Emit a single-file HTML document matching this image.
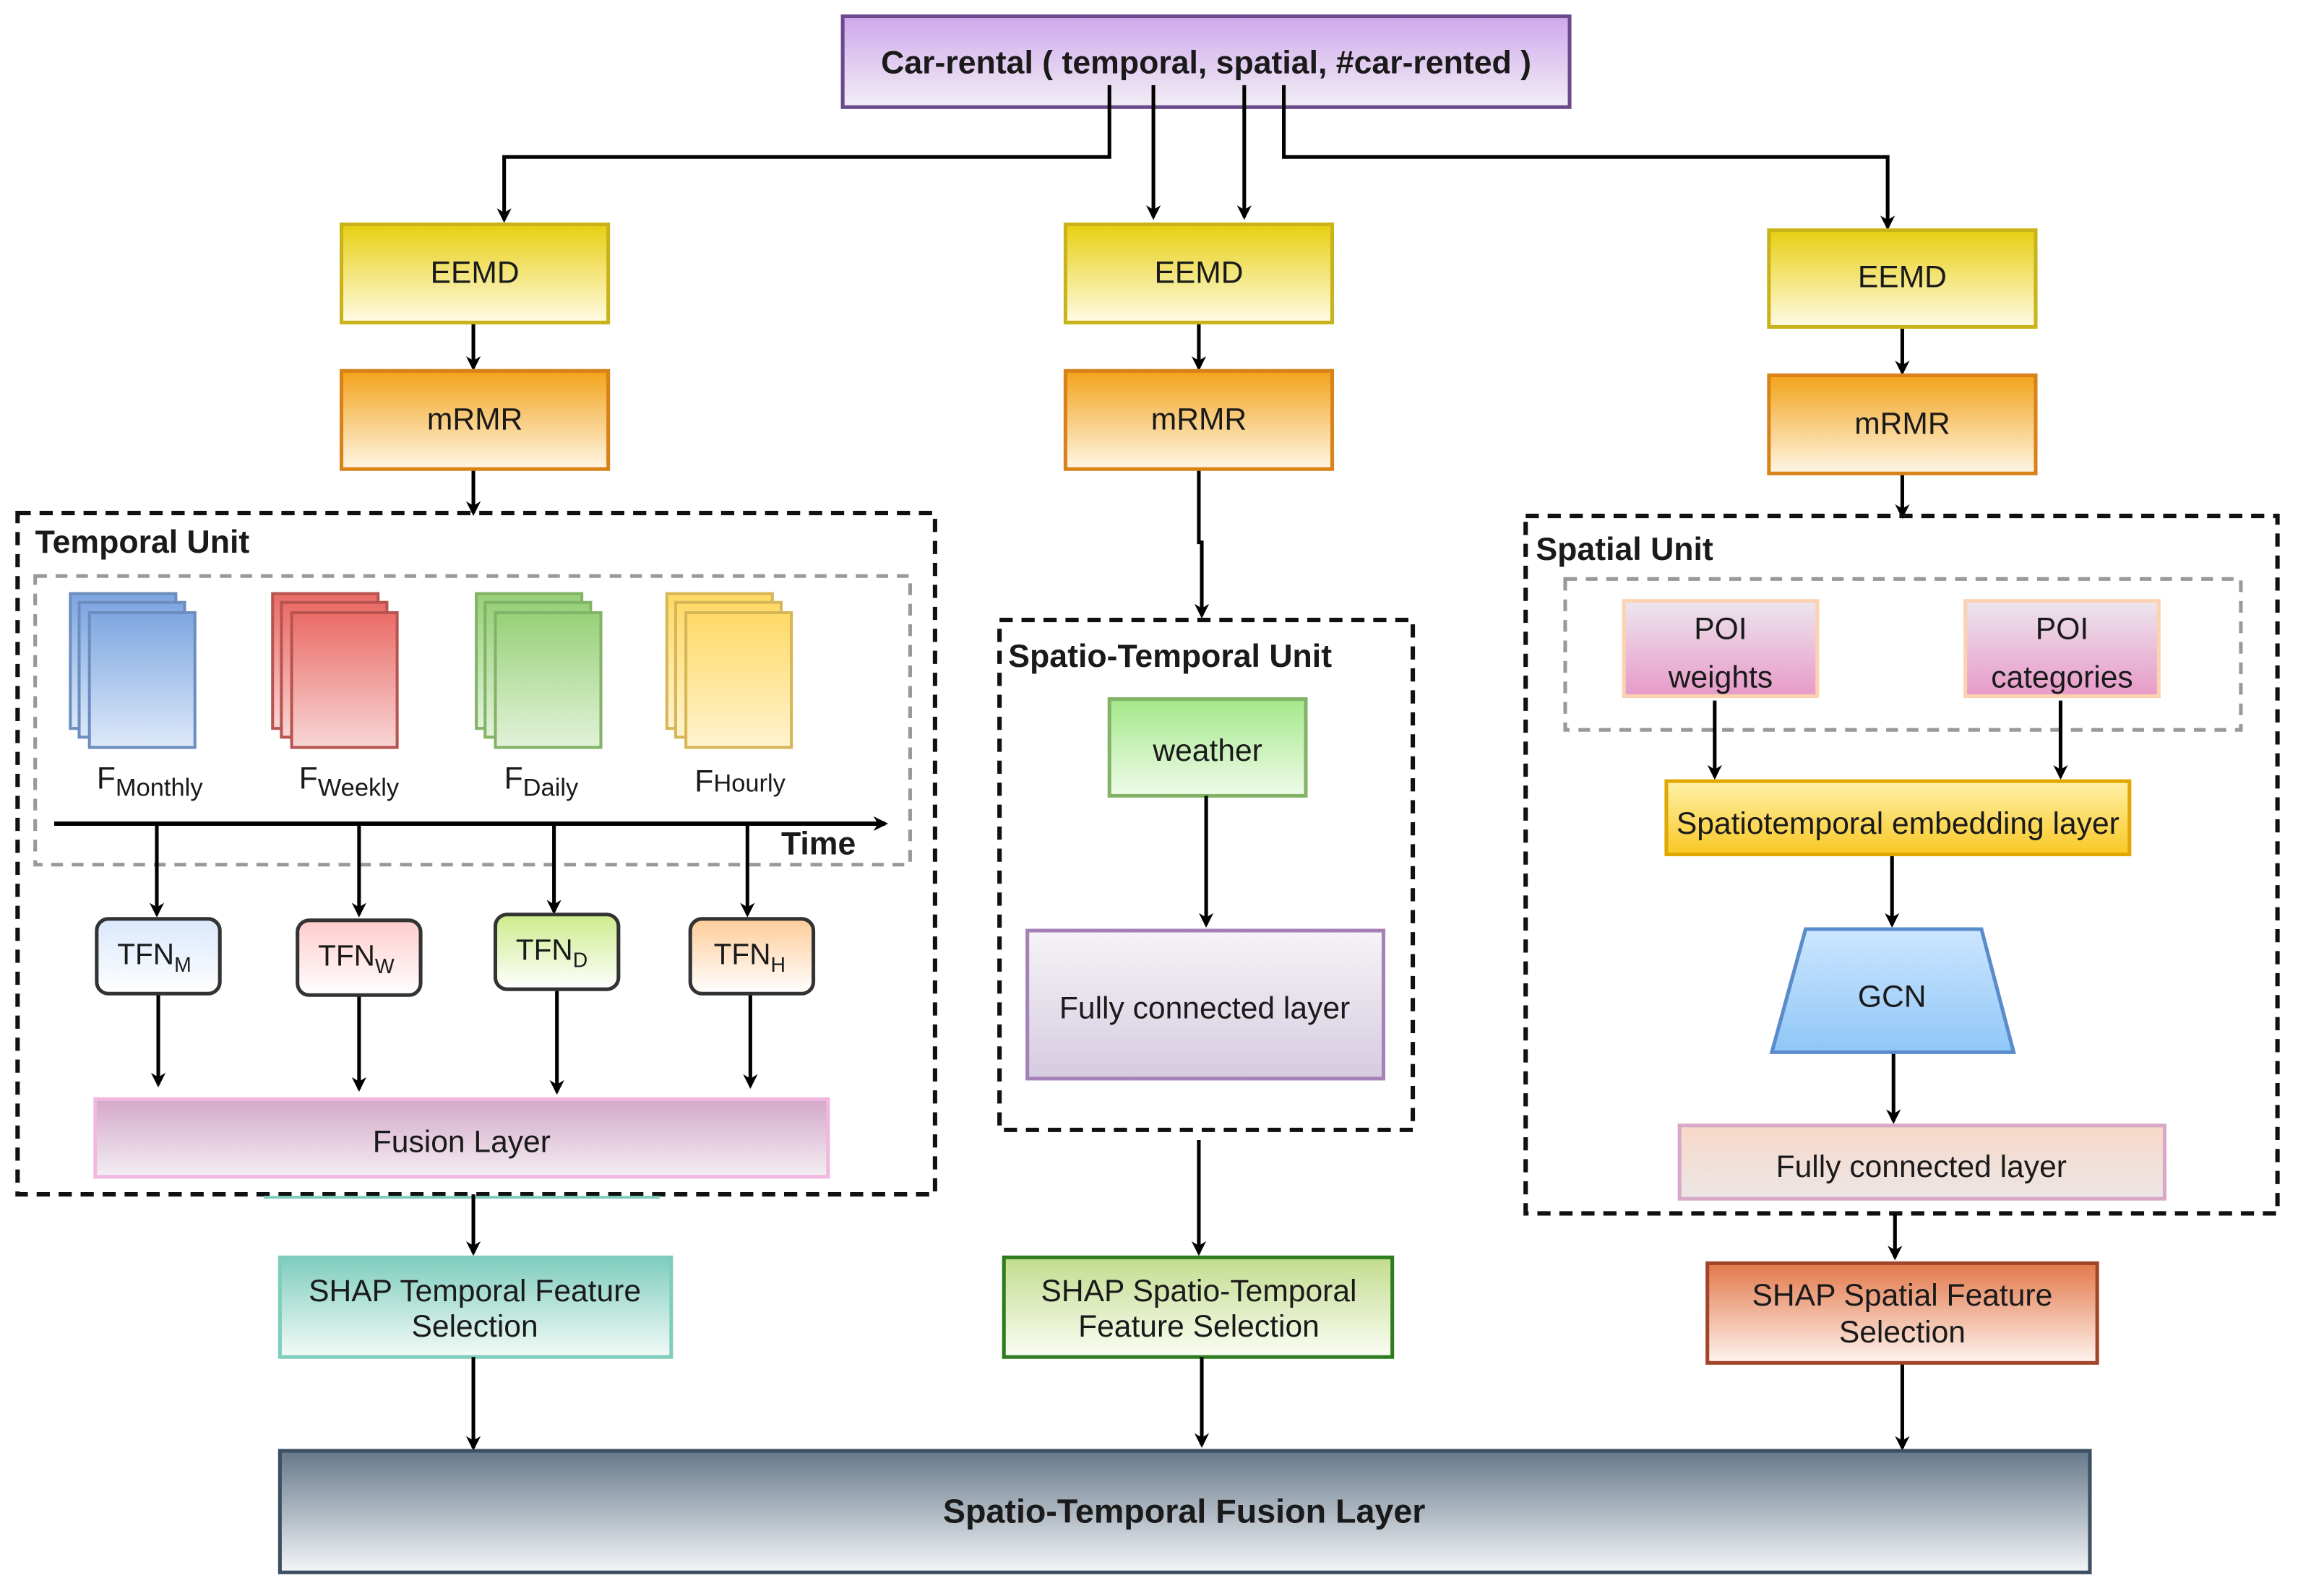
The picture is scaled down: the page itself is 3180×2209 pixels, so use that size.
<!DOCTYPE html>
<html><head><meta charset="utf-8"><style>
html,body{margin:0;padding:0;background:#fff;}
svg{display:block;}
text{font-family:"Liberation Sans",Arial,sans-serif;fill:#1a1a1a;}
</style></head><body>
<svg width="3180" height="2209" viewBox="0 0 1568 1089" xmlns="http://www.w3.org/2000/svg">
<defs>
<marker id="ah" markerWidth="10" markerHeight="10" refX="8" refY="5" orient="auto" markerUnits="userSpaceOnUse">
<path d="M0,0 L10,5 L0,10 L3,5 Z" fill="#000"/></marker>
<linearGradient id="gPurple" x1="0" y1="0" x2="0" y2="1"><stop offset="0" stop-color="#cfa8ec"/><stop offset="1" stop-color="#f2eef5"/></linearGradient>
<linearGradient id="gYel" x1="0" y1="0" x2="0" y2="1"><stop offset="0" stop-color="#e8cf10"/><stop offset="1" stop-color="#fffbe6"/></linearGradient>
<linearGradient id="gOr" x1="0" y1="0" x2="0" y2="1"><stop offset="0" stop-color="#f2a31a"/><stop offset="1" stop-color="#fff6e6"/></linearGradient>
<linearGradient id="gBlue" x1="0" y1="0" x2="0" y2="1"><stop offset="0" stop-color="#7ea6e0"/><stop offset="1" stop-color="#dde9fa"/></linearGradient>
<linearGradient id="gRed" x1="0" y1="0" x2="0" y2="1"><stop offset="0" stop-color="#ea6b66"/><stop offset="1" stop-color="#f7d6d5"/></linearGradient>
<linearGradient id="gGreen" x1="0" y1="0" x2="0" y2="1"><stop offset="0" stop-color="#97d077"/><stop offset="1" stop-color="#e2f2da"/></linearGradient>
<linearGradient id="gGold" x1="0" y1="0" x2="0" y2="1"><stop offset="0" stop-color="#ffd966"/><stop offset="1" stop-color="#fff3cf"/></linearGradient>
<linearGradient id="tM" x1="0" y1="0" x2="0" y2="1"><stop offset="0" stop-color="#dae8fc"/><stop offset="1" stop-color="#fff"/></linearGradient>
<linearGradient id="tW" x1="0" y1="0" x2="0" y2="1"><stop offset="0" stop-color="#ffcccc"/><stop offset="1" stop-color="#fff"/></linearGradient>
<linearGradient id="tD" x1="0" y1="0" x2="0" y2="1"><stop offset="0" stop-color="#cdeb8b"/><stop offset="1" stop-color="#fff"/></linearGradient>
<linearGradient id="tH" x1="0" y1="0" x2="0" y2="1"><stop offset="0" stop-color="#ffcc99"/><stop offset="1" stop-color="#fff"/></linearGradient>
<linearGradient id="gFus" x1="0" y1="0" x2="0" y2="1"><stop offset="0" stop-color="#d4a8c8"/><stop offset="1" stop-color="#f3eef2"/></linearGradient>
<linearGradient id="gTeal" x1="0" y1="0" x2="0" y2="1"><stop offset="0" stop-color="#7fcdbd"/><stop offset="1" stop-color="#f3fbf8"/></linearGradient>
<linearGradient id="gW" x1="0" y1="0" x2="0" y2="1"><stop offset="0" stop-color="#a5e88a"/><stop offset="1" stop-color="#eefbe9"/></linearGradient>
<linearGradient id="gFC" x1="0" y1="0" x2="0" y2="1"><stop offset="0" stop-color="#f6f4f6"/><stop offset="1" stop-color="#d5cbe0"/></linearGradient>
<linearGradient id="gSTs" x1="0" y1="0" x2="0" y2="1"><stop offset="0" stop-color="#c3dc8e"/><stop offset="1" stop-color="#fbfdf4"/></linearGradient>
<linearGradient id="gPOI" x1="0" y1="0" x2="0" y2="1"><stop offset="0" stop-color="#ede6ee"/><stop offset="1" stop-color="#e79ac8"/></linearGradient>
<linearGradient id="gEmb" x1="0" y1="0" x2="0" y2="1"><stop offset="0" stop-color="#fff1a8"/><stop offset="1" stop-color="#f9c825"/></linearGradient>
<linearGradient id="gGCN" x1="0" y1="0" x2="0" y2="1"><stop offset="0" stop-color="#cde6ff"/><stop offset="1" stop-color="#8fc7f7"/></linearGradient>
<linearGradient id="gFC2" x1="0" y1="0" x2="0" y2="1"><stop offset="0" stop-color="#f8d8c8"/><stop offset="1" stop-color="#ece6e6"/></linearGradient>
<linearGradient id="gRust" x1="0" y1="0" x2="0" y2="1"><stop offset="0" stop-color="#e2784a"/><stop offset="1" stop-color="#fff4ef"/></linearGradient>
<linearGradient id="gSlate" x1="0" y1="0" x2="0" y2="1"><stop offset="0" stop-color="#66788a"/><stop offset="1" stop-color="#f4f6f8"/></linearGradient>
</defs>

<!-- top -->
<rect x="575" y="11" width="496" height="62" fill="url(#gPurple)" stroke="#6a4a8c" stroke-width="2.5"/>
<text x="823" y="50" font-size="22" font-weight="bold" text-anchor="middle">Car-rental ( temporal, spatial, #car-rented )</text>

<g stroke="#000" stroke-width="2.5" fill="none">
<path d="M757,58 V107 H344 V150" marker-end="url(#ah)"/>
<path d="M787,58 V148" marker-end="url(#ah)"/>
<path d="M849,58 V148" marker-end="url(#ah)"/>
<path d="M876,58 V107 H1288 V155" marker-end="url(#ah)"/>
<path d="M323,220 V251" marker-end="url(#ah)"/>
<path d="M818,220 V251" marker-end="url(#ah)"/>
<path d="M1298,223 V254" marker-end="url(#ah)"/>
<path d="M323,320 V350" marker-end="url(#ah)"/>
<path d="M818,320 V370 H820 V420" marker-end="url(#ah)"/>
<path d="M1298,323 V352" marker-end="url(#ah)"/>
</g>

<!-- EEMD / mRMR -->
<g stroke-width="2.5">
<rect x="233" y="153" width="182" height="67" fill="url(#gYel)" stroke="#c8b41a"/>
<rect x="727" y="153" width="182" height="67" fill="url(#gYel)" stroke="#c8b41a"/>
<rect x="1207" y="157" width="182" height="66" fill="url(#gYel)" stroke="#c8b41a"/>
<rect x="233" y="253" width="182" height="67" fill="url(#gOr)" stroke="#d9821a"/>
<rect x="727" y="253" width="182" height="67" fill="url(#gOr)" stroke="#d9821a"/>
<rect x="1207" y="256" width="182" height="67" fill="url(#gOr)" stroke="#d9821a"/>
</g>
<g font-size="21" text-anchor="middle">
<text x="324" y="193">EEMD</text><text x="818" y="193">EEMD</text><text x="1298" y="196">EEMD</text>
<text x="324" y="293">mRMR</text><text x="818" y="293">mRMR</text><text x="1298" y="296">mRMR</text>
</g>

<!-- Temporal unit -->
<rect x="12" y="350" width="626" height="465" fill="none" stroke="#111" stroke-width="3" stroke-dasharray="9,6"/>
<text x="24" y="377" font-size="22" font-weight="bold">Temporal Unit</text>
<rect x="24" y="393" width="597" height="197" fill="none" stroke="#999" stroke-width="2.5" stroke-dasharray="8,6"/>

<g stroke-width="2">
<rect x="48" y="405" width="72" height="92" fill="url(#gBlue)" stroke="#6c8ebf"/>
<rect x="54" y="411" width="72" height="92" fill="url(#gBlue)" stroke="#6c8ebf"/>
<rect x="61" y="418" width="72" height="92" fill="url(#gBlue)" stroke="#6c8ebf"/>
<rect x="186" y="405" width="72" height="92" fill="url(#gRed)" stroke="#b85450"/>
<rect x="192" y="411" width="72" height="92" fill="url(#gRed)" stroke="#b85450"/>
<rect x="199" y="418" width="72" height="92" fill="url(#gRed)" stroke="#b85450"/>
<rect x="325" y="405" width="72" height="92" fill="url(#gGreen)" stroke="#82b366"/>
<rect x="331" y="411" width="72" height="92" fill="url(#gGreen)" stroke="#82b366"/>
<rect x="338" y="418" width="72" height="92" fill="url(#gGreen)" stroke="#82b366"/>
<rect x="455" y="405" width="72" height="92" fill="url(#gGold)" stroke="#d6b656"/>
<rect x="461" y="411" width="72" height="92" fill="url(#gGold)" stroke="#d6b656"/>
<rect x="468" y="418" width="72" height="92" fill="url(#gGold)" stroke="#d6b656"/>
</g>
<g font-size="21">
<text x="66" y="538">F<tspan font-size="17" dy="5">Monthly</tspan></text>
<text x="204" y="538">F<tspan font-size="17" dy="5">Weekly</tspan></text>
<text x="344" y="538">F<tspan font-size="17" dy="5">Daily</tspan></text>
<text x="474" y="540">F<tspan font-size="17">Hourly</tspan></text>
</g>
<g stroke="#000" stroke-width="3" fill="none">
<path d="M37,562 H604" marker-end="url(#ah)"/>
</g>
<text x="533" y="583" font-size="22" font-weight="bold">Time</text>
<g stroke="#000" stroke-width="2.5" fill="none">
<path d="M107,562 V624" marker-end="url(#ah)"/>
<path d="M245,562 V624" marker-end="url(#ah)"/>
<path d="M378,562 V622" marker-end="url(#ah)"/>
<path d="M510,562 V624" marker-end="url(#ah)"/>
<path d="M108,679 V740" marker-end="url(#ah)"/>
<path d="M245,680 V743" marker-end="url(#ah)"/>
<path d="M380,676 V745" marker-end="url(#ah)"/>
<path d="M512,679 V741" marker-end="url(#ah)"/>
</g>
<g stroke="#333" stroke-width="2.5">
<rect x="66" y="627" width="84" height="51" rx="8" fill="url(#tM)"/>
<rect x="203" y="628" width="84" height="51" rx="8" fill="url(#tW)"/>
<rect x="338" y="624" width="84" height="51" rx="8" fill="url(#tD)"/>
<rect x="471" y="627" width="84" height="51" rx="8" fill="url(#tH)"/>
</g>
<g font-size="20">
<text x="80" y="658">TFN<tspan font-size="14" dy="5">M</tspan></text>
<text x="217" y="659">TFN<tspan font-size="14" dy="5">W</tspan></text>
<text x="352" y="655">TFN<tspan font-size="14" dy="5">D</tspan></text>
<text x="487" y="658">TFN<tspan font-size="14" dy="5">H</tspan></text>
</g>
<rect x="65" y="750" width="500" height="53" fill="url(#gFus)" stroke="#f0b8e0" stroke-width="2.5"/>
<text x="315" y="786" font-size="21" text-anchor="middle">Fusion Layer</text>
<line x1="180" y1="817" x2="450" y2="817" stroke="#7fcdbd" stroke-width="2"/>

<path d="M323,815 V855" stroke="#000" stroke-width="2.5" fill="none" marker-end="url(#ah)"/>
<rect x="191" y="858" width="267" height="68" fill="url(#gTeal)" stroke="#7fcdbd" stroke-width="2.5"/>
<text x="324" y="888" font-size="21" text-anchor="middle">SHAP Temporal Feature</text>
<text x="324" y="912" font-size="21" text-anchor="middle">Selection</text>
<path d="M323,926 V988" stroke="#000" stroke-width="2.5" fill="none" marker-end="url(#ah)"/>

<!-- Spatio-Temporal unit -->
<rect x="682" y="423" width="282" height="348" fill="none" stroke="#111" stroke-width="3" stroke-dasharray="9,6"/>
<text x="688" y="455" font-size="22" font-weight="bold">Spatio-Temporal Unit</text>
<rect x="757" y="477" width="134" height="66" fill="url(#gW)" stroke="#82b366" stroke-width="2.5"/>
<text x="824" y="519" font-size="21" text-anchor="middle">weather</text>
<path d="M823,543 V631" stroke="#000" stroke-width="2.5" fill="none" marker-end="url(#ah)"/>
<rect x="701" y="635" width="243" height="101" fill="url(#gFC)" stroke="#a680b8" stroke-width="2.5"/>
<text x="822" y="695" font-size="21" text-anchor="middle">Fully connected layer</text>
<path d="M818,778 V855" stroke="#000" stroke-width="2.5" fill="none" marker-end="url(#ah)"/>
<rect x="685" y="858" width="265" height="68" fill="url(#gSTs)" stroke="#2d7d1e" stroke-width="2.5"/>
<text x="818" y="888" font-size="21" text-anchor="middle">SHAP Spatio-Temporal</text>
<text x="818" y="912" font-size="21" text-anchor="middle">Feature Selection</text>
<path d="M820,926 V986" stroke="#000" stroke-width="2.5" fill="none" marker-end="url(#ah)"/>

<!-- Spatial unit -->
<rect x="1041" y="352" width="513" height="476" fill="none" stroke="#111" stroke-width="3" stroke-dasharray="9,6"/>
<text x="1048" y="382" font-size="22" font-weight="bold">Spatial Unit</text>
<rect x="1068" y="395" width="461" height="103" fill="none" stroke="#999" stroke-width="2.5" stroke-dasharray="8,6"/>
<rect x="1108" y="410" width="132" height="65" fill="url(#gPOI)" stroke="#fcd3b0" stroke-width="2.5"/>
<rect x="1341" y="410" width="132" height="65" fill="url(#gPOI)" stroke="#fcd3b0" stroke-width="2.5"/>
<g font-size="21" text-anchor="middle">
<text x="1174" y="436">POI</text><text x="1174" y="469">weights</text>
<text x="1407" y="436">POI</text><text x="1407" y="469">categories</text>
</g>
<g stroke="#000" stroke-width="2.5" fill="none">
<path d="M1170,478 V530" marker-end="url(#ah)"/>
<path d="M1406,478 V530" marker-end="url(#ah)"/>
<path d="M1291,583 V631" marker-end="url(#ah)"/>
<path d="M1292,718 V765" marker-end="url(#ah)"/>
<path d="M1293,828 V858" marker-end="url(#ah)"/>
<path d="M1298,930 V988" marker-end="url(#ah)"/>
</g>
<rect x="1137" y="533" width="316" height="50" fill="url(#gEmb)" stroke="#e0a800" stroke-width="2.5"/>
<text x="1295" y="569" font-size="21" text-anchor="middle">Spatiotemporal embedding layer</text>
<polygon points="1232,634 1352,634 1374,718 1209,718" fill="url(#gGCN)" stroke="#5a8ccc" stroke-width="2.5"/>
<text x="1291" y="687" font-size="21" text-anchor="middle">GCN</text>
<rect x="1146" y="768" width="331" height="50" fill="url(#gFC2)" stroke="#d8a8c8" stroke-width="2.5"/>
<text x="1311" y="803" font-size="21" text-anchor="middle">Fully connected layer</text>
<rect x="1165" y="862" width="266" height="68" fill="url(#gRust)" stroke="#a0452a" stroke-width="2.5"/>
<text x="1298" y="891" font-size="21" text-anchor="middle">SHAP Spatial Feature</text>
<text x="1298" y="916" font-size="21" text-anchor="middle">Selection</text>

<!-- bottom -->
<rect x="191" y="990" width="1235" height="83" fill="url(#gSlate)" stroke="#3d4f63" stroke-width="2.5"/>
<text x="808" y="1039" font-size="23" font-weight="bold" text-anchor="middle">Spatio-Temporal Fusion Layer</text>
</svg>
</body></html>
